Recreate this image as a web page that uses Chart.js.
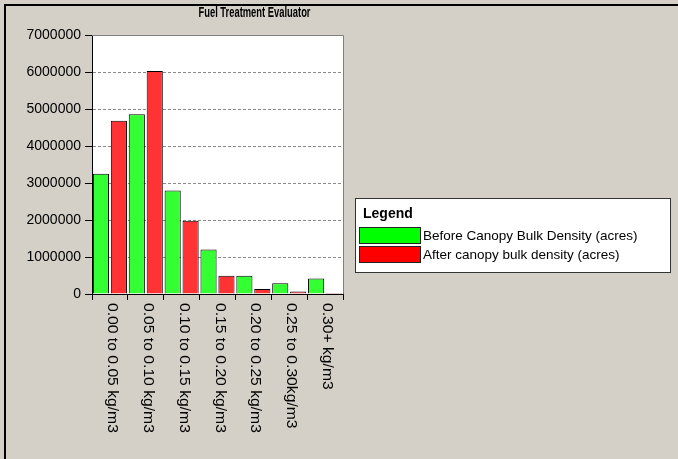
<!DOCTYPE html>
<html>
<head>
<meta charset="utf-8">
<script src="https://cdn.jsdelivr.net/npm/chart.js@4.4.0/dist/chart.umd.min.js"></script>
<style>
  html, body { margin: 0; padding: 0; background: #d4d0c8; }
  canvas { display: block; }
</style>
</head>
<body>
<canvas id="grafica" width="678" height="459"></canvas>
<script>
// Datos
const categorias = ['0.00 to 0.05 kg/m3', '0.05 to 0.10 kg/m3', '0.10 to 0.15 kg/m3',
  '0.15 to 0.20 kg/m3', '0.20 to 0.25 kg/m3', '0.25 to 0.30kg/m3', '0.30+ kg/m3'];
const antes = [3250000, 4860000, 2800000, 1200000, 490000, 290000, 420000];
const despues = [4680000, 6030000, 1980000, 490000, 135000, 70000, 30000];
const titulo = 'Fuel Treatment Evaluator';
const nombreAntes = 'Before Canopy Bulk Density (acres)';
const nombreDespues = 'After canopy bulk density (acres)';

const FONT = '"Liberation Sans", Arial, sans-serif';

// fondo blanco del area, marco, titulo, etiquetas giradas y leyenda
const decoracion = {
  id: 'decoracion',
  beforeDraw(chart) {
    const ctx = chart.ctx;
    const a = chart.chartArea;
    ctx.save();
    ctx.fillStyle = '#000';
    ctx.fillRect(4, 4, 674, 2);
    ctx.fillRect(4, 4, 2, 455);
    ctx.fillStyle = '#fff';
    ctx.fillRect(a.left, a.top, a.right - a.left, a.bottom - a.top);
    ctx.restore();
  },
  afterDraw(chart) {
    const ctx = chart.ctx;
    const a = chart.chartArea;
    const xs = chart.scales.x;
    ctx.save();
    // marco gris arriba y a la derecha
    ctx.strokeStyle = '#808080';
    ctx.lineWidth = 1;
    ctx.beginPath();
    ctx.moveTo(a.left, a.top + 0.5);
    ctx.lineTo(a.right + 0.5, a.top + 0.5);
    ctx.lineTo(a.right + 0.5, a.bottom);
    ctx.stroke();

    // titulo
    ctx.fillStyle = '#000';
    ctx.font = 'bold 15px ' + FONT;
    const w = ctx.measureText(titulo).width;
    ctx.save();
    ctx.translate(254.5, 13);
    ctx.scale(Math.min(1, 112 / w), 1);
    ctx.textAlign = 'center';
    ctx.textBaseline = 'middle';
    ctx.fillText(titulo, 0, 0);
    ctx.restore();

    // etiquetas del eje x, giradas 90 grados
    ctx.font = '14px ' + FONT;
    ctx.textAlign = 'left';
    ctx.textBaseline = 'middle';
    categorias.forEach((c, i) => {
      const x = xs.getPixelForValue(i) + 2;
      ctx.save();
      ctx.translate(x, a.bottom + 9);
      ctx.rotate(Math.PI / 2);
      ctx.scale(1.12, 1);
      ctx.fillText(c, 0, 0);
      ctx.restore();
    });

    // leyenda
    ctx.fillStyle = '#fff';
    ctx.fillRect(355, 198, 315, 74);
    ctx.strokeStyle = '#333';
    ctx.strokeRect(355.5, 198.5, 315, 74);
    ctx.fillStyle = '#000';
    ctx.font = 'bold 14px ' + FONT;
    ctx.textBaseline = 'alphabetic';
    ctx.fillText('Legend', 363, 218);
    ctx.font = '13.5px ' + FONT;
    ctx.textBaseline = 'middle';
    const colores = ['#00ff00', '#ff0000'];
    chart.data.datasets.forEach((ds, i) => {
      const y = 227 + i * 19;
      ctx.fillStyle = colores[i];
      ctx.fillRect(359, y, 61, 16);
      ctx.strokeStyle = '#222';
      ctx.strokeRect(359.5, y + 0.5, 61, 16);
      ctx.fillStyle = '#000';
      ctx.fillText(ds.label, 423, y + 9);
    });
    ctx.restore();
  }
};

const ctx = document.getElementById('grafica').getContext('2d');
new Chart(ctx, {
  type: 'bar',
  data: {
    labels: categorias,
    datasets: [{
      label: nombreAntes,
      data: antes,
      backgroundColor: '#33ff33',
      borderColor: '#000',
      borderWidth: 1,
      barPercentage: 0.9,
      categoryPercentage: 1
    }, {
      label: nombreDespues,
      data: despues,
      backgroundColor: '#ff3333',
      borderColor: '#000',
      borderWidth: 1,
      barPercentage: 0.9,
      categoryPercentage: 1
    }]
  },
  options: {
    responsive: false,
    animation: false,
    layout: { padding: { top: 35, right: 335, left: 0, bottom: 0 } },
    plugins: {
      legend: { display: false },
      title: { display: false },
      tooltip: { enabled: false }
    },
    scales: {
      x: {
        afterFit(scale) { scale.height = 165; },
        ticks: { display: false },
        grid: {
          offset: true,
          drawOnChartArea: false,
          drawTicks: true,
          tickLength: 6,
          tickColor: '#000'
        },
        border: { color: '#000', width: 1 }
      },
      y: {
        min: 0,
        max: 7000000,
        afterFit(scale) { scale.width = 92; },
        ticks: {
          stepSize: 1000000,
          color: '#000',
          padding: 4,
          font: { family: FONT, size: 14 },
          callback: v => String(v)
        },
        grid: {
          color: c => (c.tick.value === 0 || c.tick.value === 7000000) ? 'rgba(0,0,0,0)' : '#8a8a8a',
          drawTicks: true,
          tickLength: 7,
          tickColor: '#000',
          tickBorderDash: []
        },
        border: { color: '#000', width: 1, dash: [3, 2] }
      }
    }
  },
  plugins: [decoracion]
});
</script>
</body>
</html>
